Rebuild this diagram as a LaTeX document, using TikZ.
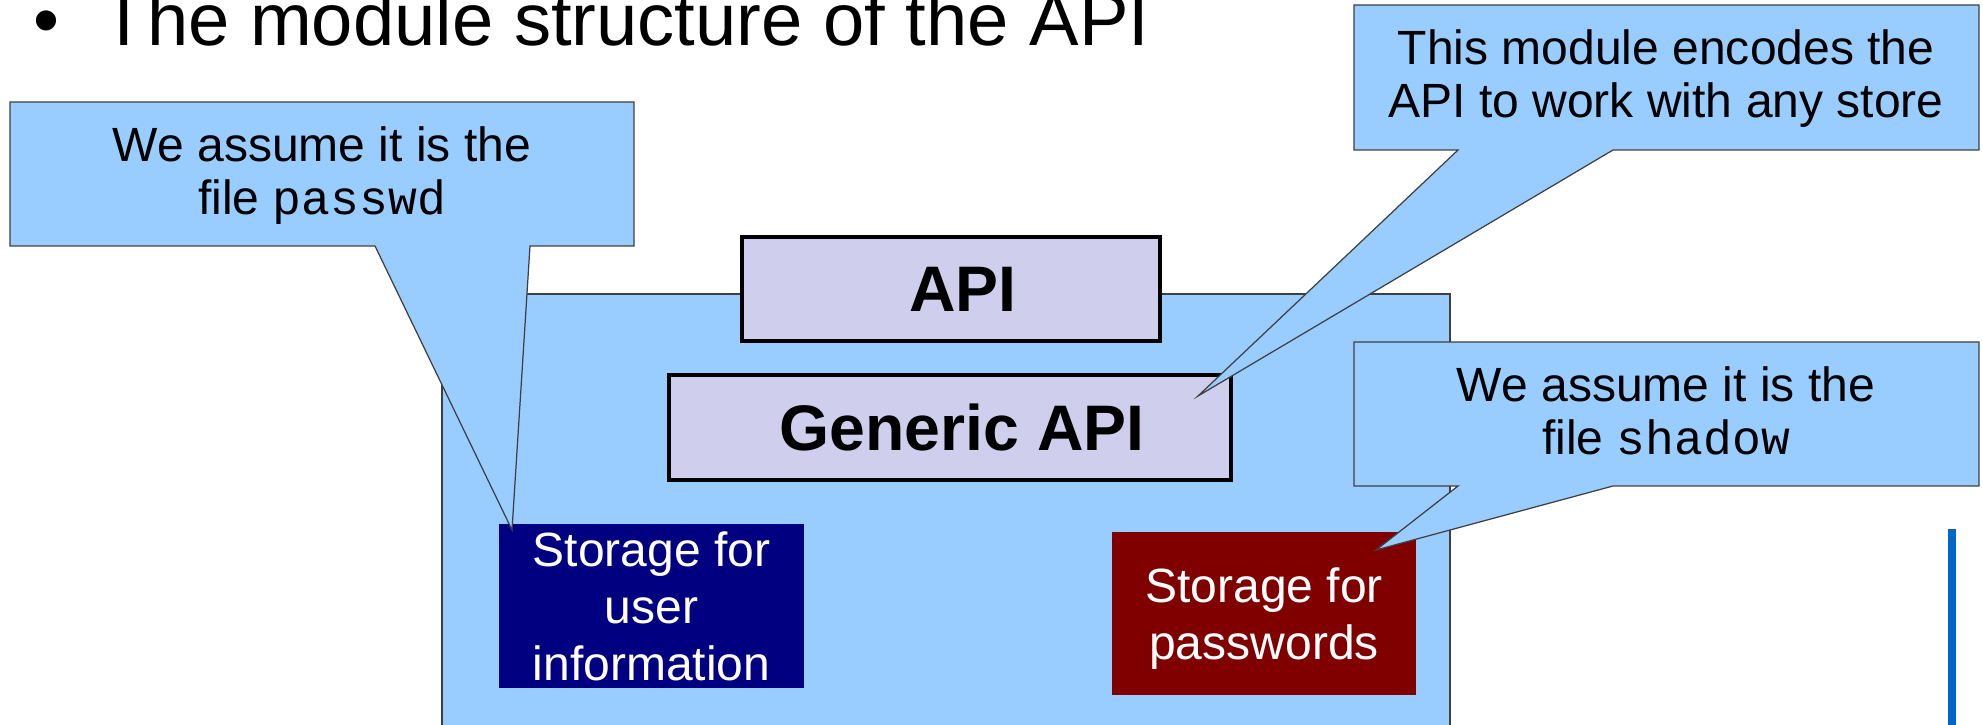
\documentclass[tikz,border=0pt]{standalone}
\usepackage{fontspec}
\setmainfont{Liberation Sans}
\setmonofont{Liberation Mono}

\definecolor{noteblue}{HTML}{99CCFF}
\definecolor{apililac}{HTML}{CFCFED}
\definecolor{usernavy}{HTML}{000080}
\definecolor{pwdred}{HTML}{800000}
\definecolor{barblue}{HTML}{0066CC}
\definecolor{rimgray}{HTML}{3F3F3F}

\newcommand{\titlesize}{\fontsize{21.1}{25}\selectfont}
\newcommand{\notesize}{\fontsize{13.66}{15.1}\selectfont}
\newcommand{\storesize}{\fontsize{13.66}{16.2}\selectfont}
\newcommand{\boxsize}{\fontsize{18.3}{21}\selectfont\bfseries}

\tikzset{
  note/.style={fill=noteblue, draw=rimgray, line width=0.35pt},
  notetext/.style={font=\notesize, align=center, inner sep=0pt, anchor=base},
  apibox/.style={draw=black, line width=1.3pt, fill=apililac, font=\boxsize, inner sep=0pt},
  storebox/.style={text=white, font=\storesize, align=center, inner sep=0pt, text depth=0pt},
}

\begin{document}
\begin{tikzpicture}[x=0.01cm, y=-0.01cm]
    \useasboundingbox (0,0) rectangle (1983,725);
    % heading
    \node[font=\titlesize, anchor=base, inner sep=0pt] (bullet) at (46,46) {•};
    \node[font=\titlesize, anchor=base west, inner sep=0pt] (title) at (101,46) {The module structure of the API};
    % module frame and its parts
    \filldraw[note] (442,294) rectangle (1450,740);
    \node[apibox, minimum width=4.18cm, minimum height=1.04cm] (api) at (951,289) {\hspace*{0.24cm}API};
    \node[apibox, minimum width=5.62cm, minimum height=1.05cm] (generic) at (950,427.5) {\hspace*{0.24cm}Generic API};
    \node[storebox, fill=usernavy, minimum width=3.05cm, minimum height=1.64cm] (userinfo) at (651.5,606) {Storage for\\user\\information};
    \node[storebox, fill=pwdred, minimum width=3.04cm, minimum height=1.63cm] (passwords) at (1264,613.5) {Storage for\\passwords};
    \coordinate (bartop) at (1952,529);
    \coordinate (barend) at (1952,740);
    \draw[barblue, line width=2.2pt] (bartop) -- (barend);
    % callouts
    \coordinate (pwtip) at (512,530);
    \coordinate (apitip) at (1198,396);
    \coordinate (shtip) at (1376,550);
    \foreach \xa/\ya/\xb/\yb/\tl/\tr/\tip in {10/102/634/246/375/530/pwtip,
        1354/5/1979/150/1458/1613/apitip, 1354/342/1979/486/1458/1613/shtip}
        \filldraw[note] (\xa,\ya) -- (\xb,\ya) -- (\xb,\yb) -- (\tr,\yb) -- (\tip) -- (\tl,\yb) -- (\xa,\yb) -- cycle;
    \node[notetext] (pwnote) at (322,215) {We assume it is the\\file \texttt{passwd}};
    \node[notetext] (apinote) at (1666,118) {This module encodes the\\API to work with any store};
    \node[notetext] (shnote) at (1666,455) {We assume it is the\\file \texttt{shadow}};
\end{tikzpicture}
\end{document}
